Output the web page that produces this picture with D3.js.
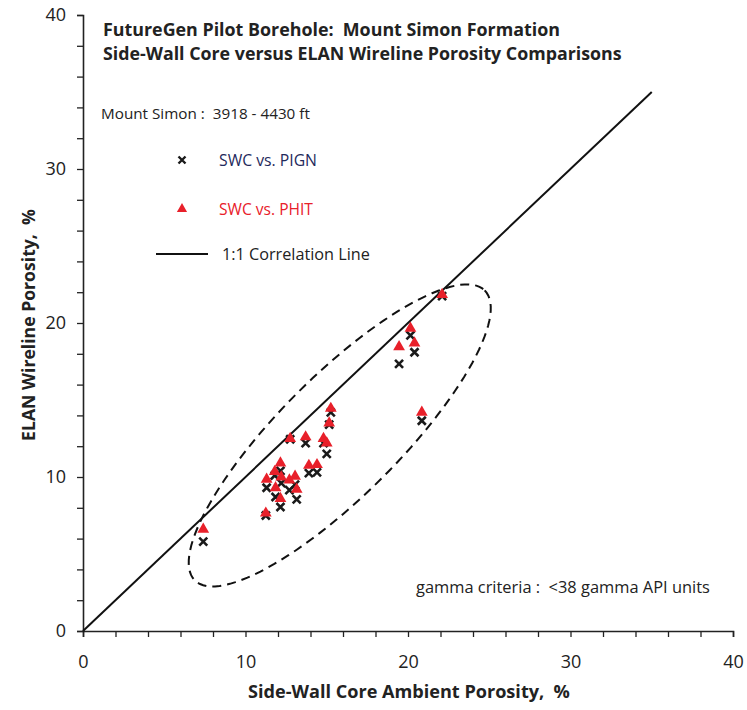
<!DOCTYPE html>
<html>
<head>
<meta charset="utf-8">
<script src="https://cdn.jsdelivr.net/npm/d3@7"></script>
<style>
  html, body { margin: 0; padding: 0; background: #fff; }
  svg { display: block; font-family: "Open Sans", Lato, sans-serif; }
  svg text { white-space: pre; }
</style>
</head>
<body>
<svg id="chart" width="747" height="710"></svg>
<script>
// Side-wall core porosity (%) for each sample
const swcPorosity = [7.4, 11.25, 11.3, 11.85, 12.15, 12.15, 11.8, 12.2, 12.7, 13.05, 13.15, 12.75,
  13.7, 13.9, 14.4, 14.8, 15.0, 15.15, 15.25, 19.45, 20.15, 20.4, 20.85, 22.1];
// ELAN total porosity (PHIT), %
const phitPorosity = [6.6, 7.65, 9.85, 9.3, 8.6, 10.9, 10.35, 10.0, 9.8, 10.05, 9.2, 12.5,
  12.6, 10.75, 10.8, 12.5, 12.2, 13.5, 14.45, 18.45, 19.65, 18.7, 14.2, 21.85];
// ELAN neutron-gamma porosity (PIGN), %
const pignPorosity = [5.8, 7.5, 9.3, 8.7, 8.05, 10.4, 10.1, 9.6, 9.15, 9.5, 8.55, 12.45,
  12.2, 10.25, 10.3, 12.2, 11.5, 13.4, 14.2, 17.35, 19.2, 18.1, 13.65, 21.75];

const axisTicks = [0, 10, 20, 30, 40];
const minorTicks = d3.range(0, 41, 2);
const oneToOne = [0, 35];

const svg = d3.select("#chart");
const x = d3.scaleLinear().domain([0, 40]).range([83, 733]);
const y = d3.scaleLinear().domain([0, 40]).range([631, 15]);

// Shrink or grow a text's font so that it spans the given width
function fitWidth(sel, width) {
  const node = sel.node();
  const fs = parseFloat(sel.attr("font-size"));
  const w = node.getComputedTextLength();
  sel.attr("font-size", (fs * width / w).toFixed(2));
  return sel;
}

// Axes: ticks every 2 units, labels every 10
const xAxis = d3.axisBottom(x).tickValues(minorTicks).tickSize(6)
  .tickFormat(d => axisTicks.includes(d) ? d : "");
const yAxis = d3.axisLeft(y).tickValues(minorTicks).tickSize(6)
  .tickFormat(d => axisTicks.includes(d) ? d : "");

const gx = svg.append("g").attr("transform", `translate(0,${y(0)})`).call(xAxis);
const gy = svg.append("g").attr("transform", `translate(${x(0)},0)`).call(yAxis);
[gx, gy].forEach(g => {
  g.select(".domain").attr("stroke", "#222").attr("stroke-width", 1.6);
  g.selectAll(".tick line").attr("stroke", "#222").attr("stroke-width", 1.3);
  g.selectAll(".tick text").attr("font-family", "'Open Sans', sans-serif")
    .attr("font-size", 18).attr("fill", "#222");
});
gx.selectAll(".tick text").attr("y", 24).attr("dy", "0.71em");
gy.selectAll(".tick text").attr("x", -17);

// Axis titles
fitWidth(svg.append("text").attr("x", 409).attr("y", 698).attr("text-anchor", "middle")
  .attr("font-weight", "bold").attr("font-size", 16).attr("fill", "#222")
  .text("Side-Wall Core Ambient Porosity,  %"), 322);
fitWidth(svg.append("text").attr("transform", "translate(35,325) rotate(-90)")
  .attr("text-anchor", "middle")
  .attr("font-weight", "bold").attr("font-size", 16).attr("fill", "#222")
  .text("ELAN Wireline Porosity,  %"), 232);

// 1:1 correlation line
svg.append("line")
  .attr("x1", x(oneToOne[0])).attr("y1", y(oneToOne[0]))
  .attr("x2", x(oneToOne[1])).attr("y2", y(oneToOne[1]))
  .attr("stroke", "#111").attr("stroke-width", 2);

// Dashed ellipse enclosing the samples
(function () {
  const cx = x(15.8), cy = y(12.7);
  const a = 205, b = 60, ang = -Math.PI / 4;
  const pts = d3.range(0, 361, 3).map(t => {
    const r = t * Math.PI / 180;
    const ex = a * Math.cos(r), ey = b * Math.sin(r);
    return [cx + ex * Math.cos(ang) - ey * Math.sin(ang), cy + ex * Math.sin(ang) + ey * Math.cos(ang)];
  });
  svg.append("path").attr("d", d3.line()(pts) + "Z")
    .attr("fill", "none").attr("stroke", "#111").attr("stroke-width", 2)
    .attr("stroke-dasharray", "9,6");
})();

const tri = d3.symbol().type(d3.symbolTriangle).size(60);
const crossPath = "M-4,-4L4,4M-4,4L4,-4";
const red = "#e8202a";

// PIGN points (crosses)
svg.append("g").selectAll("path").data(swcPorosity).join("path")
  .attr("transform", (d, i) => `translate(${x(d)},${y(pignPorosity[i])})`)
  .attr("d", crossPath).attr("stroke", "#1a1a1a").attr("stroke-width", 2.6).attr("fill", "none");

// PHIT points (triangles)
svg.append("g").selectAll("path").data(swcPorosity).join("path")
  .attr("transform", (d, i) => `translate(${x(d)},${y(phitPorosity[i])})`)
  .attr("d", tri).attr("fill", red);

// Title
fitWidth(svg.append("text").attr("x", 103).attr("y", 36).attr("font-weight", "bold")
  .attr("font-size", 16).attr("fill", "#222")
  .text("FutureGen Pilot Borehole:  Mount Simon Formation"), 457);
fitWidth(svg.append("text").attr("x", 103).attr("y", 60).attr("font-weight", "bold")
  .attr("font-size", 16).attr("fill", "#222")
  .text("Side-Wall Core versus ELAN Wireline Porosity Comparisons"), 519);

fitWidth(svg.append("text").attr("x", 101).attr("y", 119).attr("font-size", 14).attr("fill", "#222")
  .text("Mount Simon :  3918 - 4430 ft"), 209);

// Legend
svg.append("path").attr("transform", "translate(182,160)").attr("d", "M-3.5,-3.5L3.5,3.5M-3.5,3.5L3.5,-3.5")
  .attr("stroke", "#1a1a1a").attr("stroke-width", 2.4);
fitWidth(svg.append("text").attr("x", 219).attr("y", 166).attr("font-size", 14).attr("fill", "#1f2a5c")
  .text("SWC vs. PIGN"), 98);
svg.append("path").attr("transform", "translate(182,209)").attr("d", d3.symbol().type(d3.symbolTriangle).size(45)).attr("fill", red);
fitWidth(svg.append("text").attr("x", 219).attr("y", 215).attr("font-size", 14).attr("fill", red)
  .text("SWC vs. PHIT"), 94);
svg.append("line").attr("x1", 156).attr("x2", 208).attr("y1", 254).attr("y2", 254).attr("stroke", "#111").attr("stroke-width", 2);
fitWidth(svg.append("text").attr("x", 222).attr("y", 260).attr("font-size", 14).attr("fill", "#222")
  .text("1:1 Correlation Line"), 148);

fitWidth(svg.append("text").attr("x", 416).attr("y", 593).attr("font-size", 14).attr("fill", "#222")
  .text("gamma criteria :  <38 gamma API units"), 294);
</script>
</body>
</html>
